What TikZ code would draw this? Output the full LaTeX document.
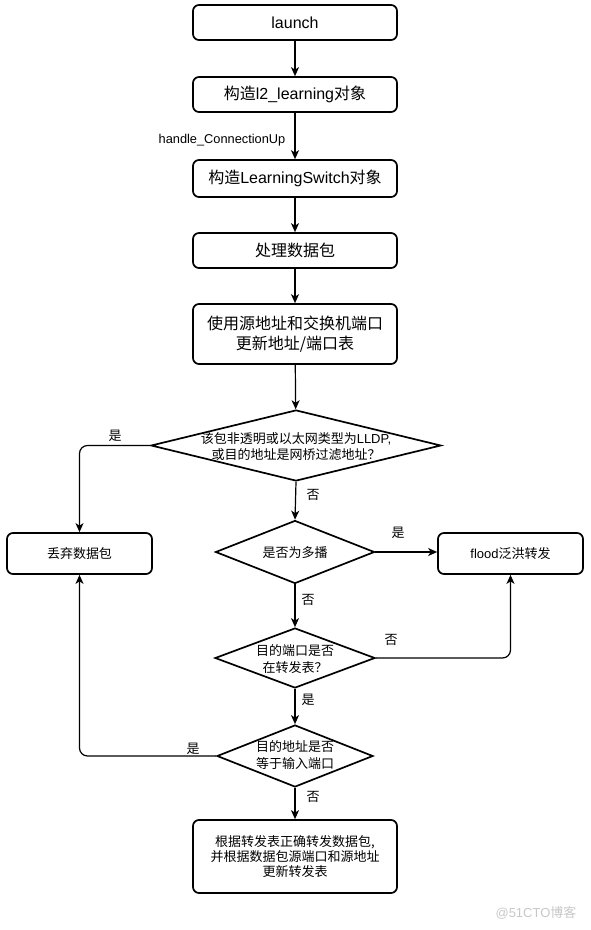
\documentclass[tikz,border=0pt]{standalone}
\usepackage{fontspec}
\setmainfont{Noto Sans CJK SC}
\newfontfamily\lat{Liberation Sans}
\usetikzlibrary{shapes.geometric,arrows.meta}
\begin{document}
\begin{tikzpicture}[x=1pt,y=-1pt,
  box/.style={draw, line width=1.7pt, rounded corners=6pt, inner sep=0pt, align=center},
  bigbox/.style={box, minimum width=204pt, font=\fontsize{16}{20}\selectfont},
  smallbox/.style={box, minimum width=145pt, minimum height=41pt, font=\fontsize{13}{16}\selectfont},
  dia/.style={draw, diamond, line width=1.7pt, inner sep=0pt},
  diatext/.style={align=center, inner sep=0pt, font=\fontsize{13}{16}\selectfont},
  lab/.style={inner sep=0pt, font=\fontsize{13}{16}\selectfont},
  arr/.style={draw, line width=1.2pt, -{Stealth[length=9pt,width=8pt,inset=2.5pt]}}
]
\useasboundingbox (0,0) rectangle (591,930);

\node[bigbox, minimum height=35pt] (launch) at (295,22.5) {\lat launch};
\node[bigbox, minimum height=35pt] (l2) at (295,94.5) {构造\lat l2\_learning\normalfont 对象};
\node[bigbox, minimum height=37pt] (ls) at (295,178.5) {构造\lat LearningSwitch\normalfont 对象};
\node[bigbox, minimum height=35pt] (proc) at (295,250.5) {处理数据包};
\node[bigbox, minimum height=60pt] (upd) at (295,334) {使用源地址和交换机端口\\更新地址/端口表};

\node[dia, minimum width=290pt, minimum height=71pt] (d1) at (296,445.5) {};
\node[diatext] (d1t) at (296,447) {该包非透明或以太网类型为\lat LLDP,\\或目的地址是网桥过滤地址？};

\node[smallbox] (drop) at (79.5,553.5) {丢弃数据包};
\node[smallbox] (flood) at (510.5,553.5) {\lat flood\normalfont 泛洪转发};

\node[dia, minimum width=159pt, minimum height=63pt] (d2) at (295,552) {};
\node[diatext] (d2t) at (295,552.5) {是否为多播};

\node[dia, minimum width=160pt, minimum height=60pt] (d3) at (295,658) {};
\node[diatext, font=\fontsize{13}{17}\selectfont] (d3t) at (295,659.5) {目的端口是否\\在转发表？};

\node[dia, minimum width=156pt, minimum height=62pt] (d4) at (295,756) {};
\node[diatext, font=\fontsize{13}{17}\selectfont] (d4t) at (295,755.5) {目的地址是否\\等于输入端口};

\node[box, minimum width=204pt, minimum height=73pt, font=\fontsize{13}{15}\selectfont] (final) at (295,856.5) {根据转发表正确转发数据包,\\并根据数据包源端口和源地址\\更新转发表};

\draw[arr] (launch) -- (l2);
\draw[arr] (l2) -- (ls);
\node[lab, font=\lat\fontsize{12.8}{14}\selectfont] (hc) at (222,140) {handle\_ConnectionUp};
\draw[arr] (ls) -- (proc);
\draw[arr] (proc) -- (upd);
\draw[arr] (upd) -- (d1);
\draw[arr, rounded corners=8pt] (d1.west) -| (drop.north);
\draw[arr] (d1.south) -- (d2.north);
\draw[arr] (d2.east) -- (d2.east -| flood.west);
\draw[arr] (d2.south) -- (d3.north);
\draw[arr, rounded corners=8pt] (d3.east) -| (flood.south);
\draw[arr] (d3.south) -- (d4.north);
\draw[arr, rounded corners=8pt] (d4.west) -| (drop.south);
\draw[arr] (d4.south) -- (final.north);

\node[lab] (y1) at (115,436) {是};
\node[lab] (n1) at (313,495) {否};
\node[lab] (y2) at (398,533) {是};
\node[lab] (n2) at (308,600) {否};
\node[lab] (n3) at (391,640) {否};
\node[lab] (y3) at (308,700) {是};
\node[lab] (y4) at (193,748.5) {是};
\node[lab] (n4) at (313,797) {否};

\node[inner sep=0pt, text=black!22, font=\fontsize{13}{16}\selectfont] (wm) at (536,913) {\lat @51CTO\normalfont 博客};
\end{tikzpicture}
\end{document}
